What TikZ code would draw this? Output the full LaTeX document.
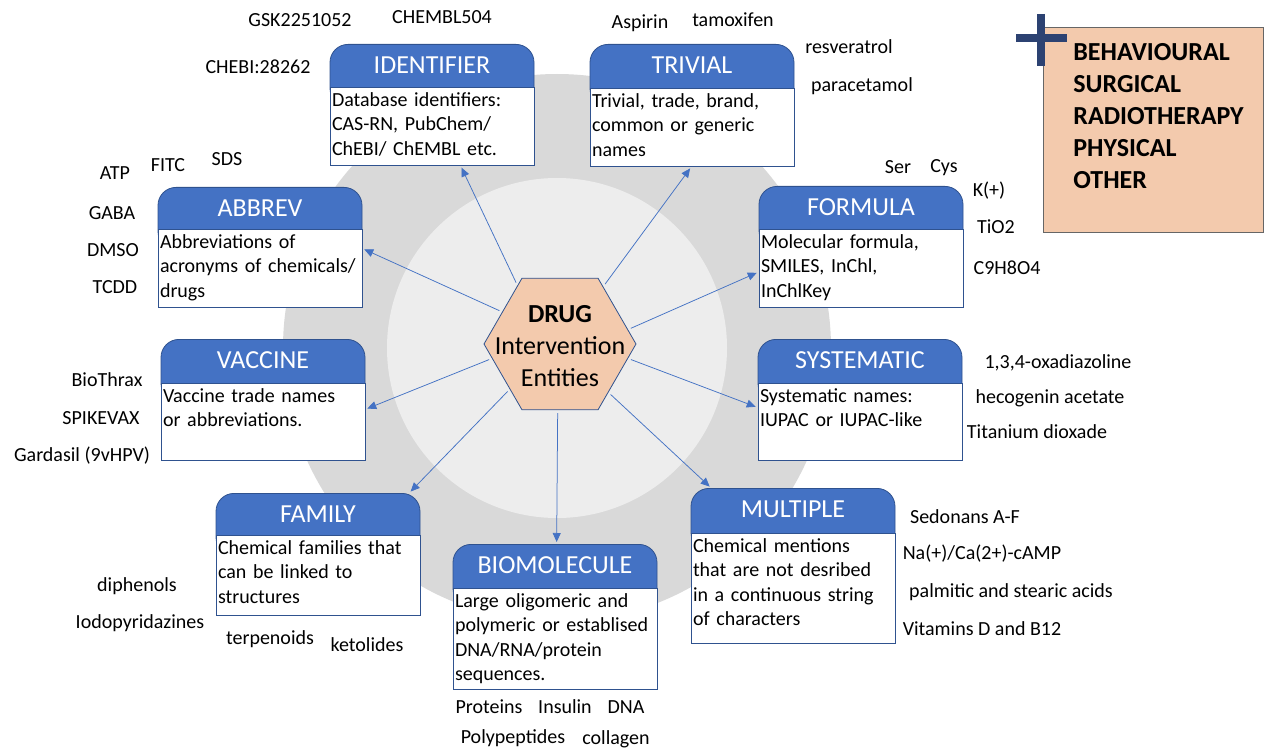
\documentclass[tikz,border=0pt]{standalone}
\usepackage{fontspec}
\setmainfont{Carlito}
\usetikzlibrary{shapes.geometric,arrows.meta}
\definecolor{bleucarte}{RGB}{68,114,196}
\definecolor{bordcarte}{RGB}{47,82,143}
\definecolor{grisfonce}{RGB}{217,217,217}
\definecolor{grisclair}{RGB}{237,237,237}
\definecolor{peche}{RGB}{243,202,173}
\definecolor{marine}{RGB}{44,66,114}
\begin{document}
\begin{tikzpicture}[x=1pt,y=-1pt,
	cardhead/.style={anchor=north, fill=bleucarte, draw=bordcarte, line width=0.8pt, rounded corners=18pt,
		minimum width=204pt, inner sep=0pt, text height=29pt, text depth=33pt, text=white,
		font=\fontsize{26}{30}\selectfont},
	cardbody/.style={anchor=north, fill=white, draw=bordcarte, line width=0.8pt, text width=200pt,
		inner xsep=2pt, inner ysep=0pt, text height=19pt, align=left,
		font=\fontsize{20}{24.5}\selectfont},
	lbl/.style={inner sep=0pt, text height=13pt, text depth=0pt, font=\fontsize{20}{24}\selectfont},
	fleche/.style={draw=bleucarte, line width=0.75pt, -{Triangle[length=9pt,width=8pt]},
		shorten <=3pt, shorten >=2pt}]
	\useasboundingbox (0,0) rectangle (1270,749);
	%fond
	\fill[grisfonce] (557,348) circle (274pt);
	\fill[grisclair] (557,348) circle (170pt);
	%cartes
	\node[cardhead] (idhead) at (432,44) {IDENTIFIER};
	\node[cardbody, text depth=59pt] (idbody) at (432,87) {Database identifiers:\\CAS-RN, PubChem/\\ChEBI/ ChEMBL etc.};
	\node[cardhead] (trhead) at (692,44) {TRIVIAL};
	\node[cardbody, text depth=59pt] (trbody) at (692,88) {Trivial, trade, brand,\\common or generic\\names};
	\node[cardhead] (abhead) at (260,187) {ABBREV};
	\node[cardbody, text depth=59pt] (abbody) at (260,229) {Abbreviations of\\acronyms of chemicals/\\drugs};
	\node[cardhead] (fohead) at (861,186) {FORMULA};
	\node[cardbody, text depth=59pt] (fobody) at (861,229) {Molecular formula,\\SMILES, InChl,\\InChlKey};
	\node[cardhead] (vahead) at (263,339) {VACCINE};
	\node[cardbody, text depth=58pt] (vabody) at (263,383) {Vaccine trade names\\or abbreviations.};
	\node[cardhead] (syhead) at (860,339) {SYSTEMATIC};
	\node[cardbody, text depth=58pt] (sybody) at (860,383) {Systematic names:\\IUPAC or IUPAC-like};
	\node[cardhead] (fahead) at (318,493) {FAMILY};
	\node[cardbody, text depth=61pt] (fabody) at (318,535) {Chemical families that\\can be linked to\\structures};
	\node[cardhead] (biohead) at (555,544) {BIOMOLECULE};
	\node[cardbody, text depth=82pt] (biobody) at (555,588) {Large oligomeric and\\polymeric or establised\\DNA/RNA/protein\\sequences.};
	\node[cardhead] (muhead) at (793,488) {MULTIPLE};
	\node[cardbody, text depth=91pt] (mubody) at (793,533) {Chemical mentions\\that are not desribed\\in a continuous string\\of characters};
	%hexagone
	\node[regular polygon, regular polygon sides=6, minimum size=152pt, inner sep=0pt, fill=peche,
		draw=bordcarte, line width=0.8pt,
		label={[font=\fontsize{26}{32}\selectfont, align=center, inner sep=0pt, yshift=-2pt]center:{\textbf{DRUG}\\Intervention\\Entities}}]
		(drug) at (560,344) {};
	%fleches
	\draw[fleche] (drug.126) -- (idbody.-54);
	\draw[fleche] (drug.53) -- (trbody.-91);
	\draw[fleche] (drug.151) -- (abbody.11);
	\draw[fleche] (drug.12) -- (fobody.182);
	\draw[fleche] (drug.192) -- (vabody.7);
	\draw[fleche] (drug.-12) -- (sybody.172);
	\draw[fleche] (drug.222) -- (fahead.19);
	\draw[fleche] (drug.268) -- (biohead.87);
	\draw[fleche] (drug.-45) -- (muhead.159);
	%autres interventions
	\node[anchor=north west, fill=peche, draw=black!60, line width=0.8pt, text width=160pt,
		inner xsep=30pt, inner ysep=0pt, text height=33pt, text depth=172pt, align=left,
		font=\bfseries\fontsize{26}{32}\selectfont]
		(autres) at (1043,27) {BEHAVIOURAL\\SURGICAL\\RADIOTHERAPY\\PHYSICAL\\OTHER};
	\draw[marine, line width=8pt] (1016,38) -- (1067,38) (1041,14) -- (1041,66);
	%exemples
	\node[lbl] (gsk) at (300,20) {GSK2251052};
	\node[lbl] (chembl) at (442,17) {CHEMBL504};
	\node[lbl] (chebi) at (258,67) {CHEBI:28262};
	\node[lbl] (aspirin) at (640,22) {Aspirin};
	\node[lbl] (tamox) at (733,20) {tamoxifen};
	\node[lbl] (resv) at (849,47) {resveratrol};
	\node[lbl] (parac) at (862,85) {paracetamol};
	\node[lbl] (atp) at (115,173) {ATP};
	\node[lbl] (fitc) at (168,165) {FITC};
	\node[lbl] (sds) at (227,159) {SDS};
	\node[lbl] (gaba) at (112,213) {GABA};
	\node[lbl] (dmso) at (113,250) {DMSO};
	\node[lbl] (tcdd) at (115,287) {TCDD};
	\node[lbl] (ser) at (898,167) {Ser};
	\node[lbl] (cys) at (944,166) {Cys};
	\node[lbl] (kplus) at (989,190) {K(+)};
	\node[lbl] (tio) at (996,227) {TiO2};
	\node[lbl] (c9h) at (1007,268) {C9H8O4};
	\node[lbl] (oxad) at (1058,362) {1,3,4-oxadiazoline};
	\node[lbl] (hecog) at (1050,397) {hecogenin acetate};
	\node[lbl] (titan) at (1037,432) {Titanium dioxade};
	\node[lbl] (biothrax) at (107,380) {BioThrax};
	\node[lbl] (spike) at (101,418) {SPIKEVAX};
	\node[lbl] (gardasil) at (82,455) {Gardasil (9vHPV)};
	\node[lbl] (sedon) at (965,517) {Sedonans A-F};
	\node[lbl] (naca) at (982,553) {Na(+)/Ca(2+)-cAMP};
	\node[lbl] (palm) at (1011,591) {palmitic and stearic acids};
	\node[lbl] (vitam) at (982,629) {Vitamins D and B12};
	\node[lbl] (diph) at (137,585) {diphenols};
	\node[lbl] (iodo) at (140,622) {Iodopyridazines};
	\node[lbl] (terp) at (270,638) {terpenoids};
	\node[lbl] (ketol) at (367,645) {ketolides};
	\node[lbl] (prot) at (489,707) {Proteins};
	\node[lbl] (insul) at (565,707) {Insulin};
	\node[lbl] (dna) at (626,707) {DNA};
	\node[lbl] (polyp) at (513,737) {Polypeptides};
	\node[lbl] (collag) at (616,738) {collagen};
\end{tikzpicture}
\end{document}
